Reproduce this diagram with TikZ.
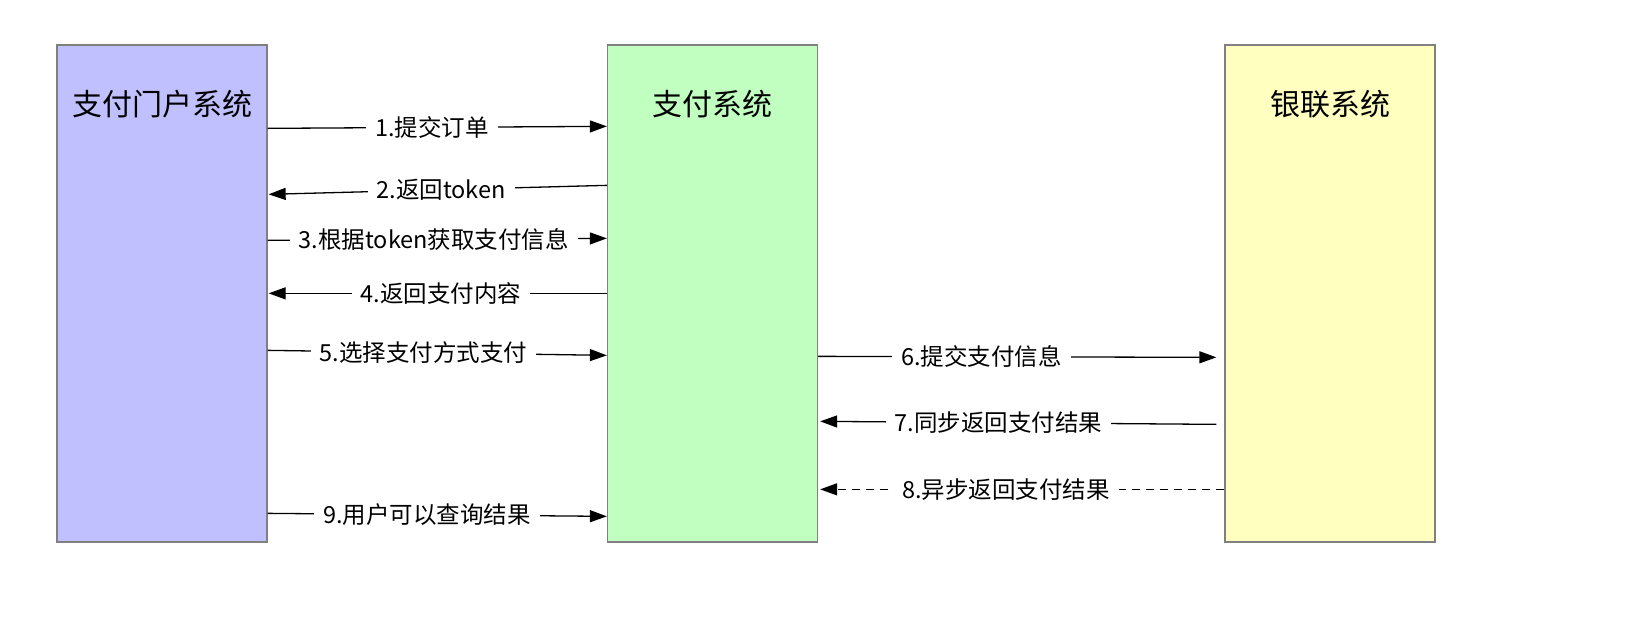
\documentclass[tikz,border=0pt]{standalone}
\usepackage{fontspec}
\setmainfont{Noto Sans CJK SC}
\usetikzlibrary{arrows.meta,positioning}
\definecolor{portalfill}{RGB}{192,192,255}
\definecolor{payfill}{RGB}{192,255,192}
\definecolor{unionfill}{RGB}{255,255,192}
\definecolor{boxline}{RGB}{128,128,128}

\begin{document}
\begin{tikzpicture}[x=1pt, y=-1pt, line width=1.3pt,
   sysbox/.style={draw=boxline, minimum width=210pt, minimum height=497pt, inner sep=0pt},
   title/.style={font=\fontsize{30}{34}\selectfont, below=42pt of #1.north},
   msg/.style={-{Triangle[length=17pt,width=12pt]}},
   lbl/.style={fill=white, inner xsep=9pt, inner ysep=2pt, font=\fontsize{23.5}{26}\selectfont}]
   \useasboundingbox (0,0) rectangle (1652,616);
   % the three systems
   \node[sysbox, fill=portalfill] (portal) at (162,293.5) {};
   \node[sysbox, fill=payfill] (pay) at (712.5,293.5) {};
   \node[sysbox, fill=unionfill] (union) at (1330,293.5) {};
   \node[title=portal] (tportal) {支付门户系统};
   \node[title=pay] (tpay) {支付系统};
   \node[title=union] (tunion) {银联系统};
   % messages between portal and payment system
   \draw[msg] ([yshift=-84pt]portal.north east) -- node[lbl, pos=0.485]{1.提交订单} ([yshift=-82pt]pay.north west);
   \draw[msg] ([yshift=-141pt]pay.north west) -- node[lbl, pos=0.49]{2.返回token} ([xshift=1pt,yshift=-150pt]portal.north east);
   \draw[msg] ([yshift=-196pt]portal.north east) -- node[lbl, pos=0.49]{3.根据token获取支付信息} ([yshift=-194pt]pay.north west);
   \draw[msg] ([yshift=-249pt]pay.north west) -- node[lbl, pos=0.49]{4.返回支付内容} ([xshift=1pt,yshift=-249pt]portal.north east);
   \draw[msg] ([yshift=-306pt]portal.north east) -- node[lbl, pos=0.46]{5.选择支付方式支付} ([yshift=-311pt]pay.north west);
   % messages between payment system and union pay
   \draw[msg] ([yshift=-312pt]pay.north east) -- node[lbl, pos=0.41]{6.提交支付信息} ([xshift=-8pt,yshift=-313pt]union.north west);
   \draw[msg] ([xshift=-8pt,yshift=-380pt]union.north west) -- node[lbl, pos=0.55]{7.同步返回支付结果} ([xshift=2pt,yshift=-377pt]pay.north east);
   \draw[msg, dash pattern=on 8pt off 6pt] ([yshift=-445pt]union.north west) -- node[lbl, pos=0.54]{8.异步返回支付结果} ([xshift=2pt,yshift=-445pt]pay.north east);
   % query result
   \draw[msg] ([yshift=-469pt]portal.north east) -- node[lbl, pos=0.47]{9.用户可以查询结果} ([yshift=-472pt]pay.north west);
\end{tikzpicture}
\end{document}
